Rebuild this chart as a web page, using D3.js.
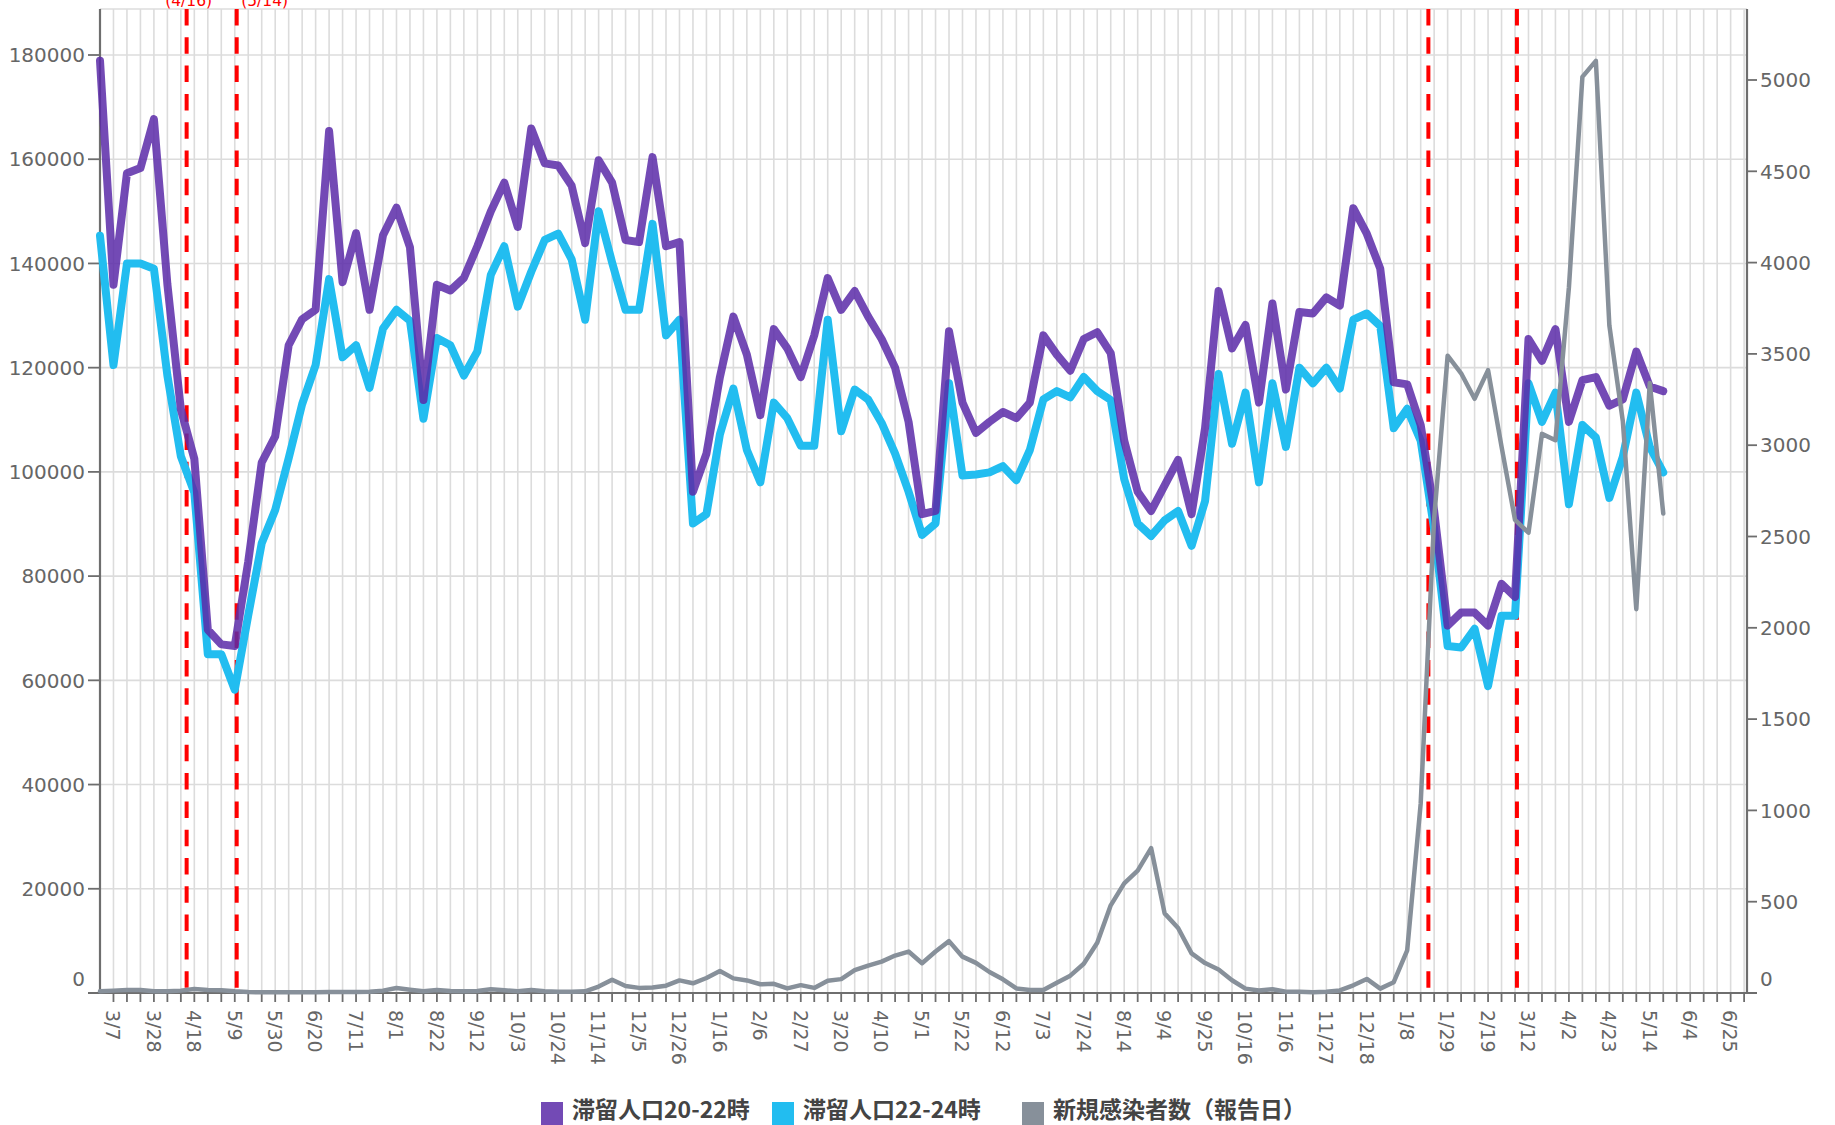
<!DOCTYPE html>
<html>
<head>
<meta charset="utf-8">
<script src="https://cdn.jsdelivr.net/npm/d3@7"></script>
<style>
  html, body { margin: 0; padding: 0; background: #fff; }
  svg { display: block; }
</style>
</head>
<body>
<svg id="chart" width="1835" height="1125"></svg>
<script>
// ---- data (weekly, first week = 2020-02-29) ----
const firstWeek = "2020-02-29";
const stay2022 = [178900,135900,157300,158300,167700,136000,112000,102500,69700,66900,
  66600,82800,101800,106800,124300,129300,131100,165400,136400,145800,
  131100,145400,150700,143100,113800,135900,134800,137200,143300,150000,
  155500,147000,165900,159200,158800,154900,143900,159800,155500,144500,
  144100,160400,143300,144100,96200,103500,118200,129800,122500,110900,
  127400,123700,118200,126200,137200,131100,134700,129800,125500,120000,
  109600,91900,92500,127000,113300,107500,109600,111500,110300,113300,
  126200,122500,119400,125500,126800,122800,106000,96200,92500,97400,
  102300,91900,108400,134700,123700,128200,113300,132300,115800,130700,
  130400,133500,131900,150600,145700,139000,117200,116800,109000,92500,
  70500,73000,73000,70500,78500,76000,125500,121300,127400,109600,
  117600,118200,112700,113900,123100,116400,115500];
const stay2224 = [145300,120500,140000,140000,139000,118500,103000,96000,65000,65000,
  58200,72500,86300,92700,102600,113000,120500,137000,122000,124300,
  116100,127500,131100,129000,110200,125700,124300,118500,123100,137800,
  143300,131700,138400,144500,145700,140800,129200,150000,140200,131100,
  131100,147600,126200,129200,90100,91900,107200,116000,104200,98000,
  113300,110300,105000,105000,129200,107800,115800,113900,109400,103500,
  96200,87900,90100,117000,99300,99500,99900,101100,98400,104200,
  113900,115500,114300,118200,115500,113800,98600,90100,87700,90700,
  92500,85800,94400,118800,105400,115200,98000,117000,104800,120000,
  117000,120000,116000,129200,130400,128000,108400,112100,106000,89000,
  66600,66300,69900,58900,72400,72400,117000,109600,115200,93800,
  109000,106600,95000,102900,115200,104800,99900];
const newCases = [9,13,16,16,9,9,13,22,16,15,
  9,5,4,4,4,4,4,5,5,5,
  7,13,27,18,9,16,11,9,11,20,
  15,9,16,9,7,7,9,35,73,38,
  28,30,40,69,53,82,120,80,69,48,
  50,25,43,28,67,76,125,150,172,205,
  227,163,227,284,199,165,115,75,25,17,
  17,56,95,160,275,480,600,670,793,436,
  356,217,164,129,70,24,14,21,7,7,
  4,7,14,42,77,24,59,234,1037,2600,
  3490,3394,3254,3411,2992,2591,2521,3062,3027,3865,
  5017,5105,3656,3132,2102,3341,2626];

const seriesNames = ["滞留人口20-22時", "滞留人口22-24時", "新規感染者数（報告日）"];
const seriesColors = ["#5a2aa8", "#22bdf0", "#87909a"];
const leftTicks = [0,20000,40000,60000,80000,100000,120000,140000,160000,180000];
const rightTicks = [0,500,1000,1500,2000,2500,3000,3500,4000,4500,5000];
const markerDates = ["2020-04-14","2020-05-10","2022-01-19","2022-03-06"];
const markerLabels = ["(4/16)","(5/14)","",""];

// ---- layout ----
const svg = d3.select("#chart");
const L = 100, R = 1747, T = 9, B = 993;
const parse = d3.utcParse("%Y-%m-%d");
const start = parse(firstWeek);
const dates = stay2022.map((_, i) => d3.utcDay.offset(start, 7 * i));

const x = d3.scaleUtc()
  .domain([start, new Date(Date.UTC(2022, 6, 3, 12))])
  .range([L, R]);
const yL = d3.scaleLinear().domain([0, 180000]).range([B, 55]);
const yR = d3.scaleLinear().domain([0, 5000]).range([B, 80]);

const weekTicks = d3.utcSaturday.range(start, x.domain()[1]);
const fmt = d3.utcFormat("%-m/%-d");

// vertical grid
svg.append("g").selectAll("line").data(weekTicks.slice(1)).join("line")
  .attr("x1", d => x(d)).attr("x2", d => x(d))
  .attr("y1", T).attr("y2", B)
  .attr("stroke", "#dcdcdc").attr("stroke-width", 1.6);

// horizontal grid
svg.append("g").selectAll("line").data(leftTicks.filter(v => v > 0)).join("line")
  .attr("x1", L).attr("x2", R)
  .attr("y1", d => yL(d)).attr("y2", d => yL(d))
  .attr("stroke", "#dcdcdc").attr("stroke-width", 1.6);
svg.append("line").attr("x1", L).attr("x2", R).attr("y1", T).attr("y2", T)
  .attr("stroke", "#dcdcdc").attr("stroke-width", 1.6);

// axes lines
const axisColor = "#6e6e6e";
svg.append("line").attr("x1", L).attr("x2", L).attr("y1", T).attr("y2", B + 1)
  .attr("stroke", axisColor).attr("stroke-width", 2.2);
svg.append("line").attr("x1", R).attr("x2", R).attr("y1", T).attr("y2", B + 1)
  .attr("stroke", axisColor).attr("stroke-width", 2.2);
svg.append("line").attr("x1", L - 12).attr("x2", R + 10).attr("y1", B).attr("y2", B)
  .attr("stroke", axisColor).attr("stroke-width", 2.2);

// x ticks
svg.append("g").selectAll("line").data(weekTicks.slice(1)).join("line")
  .attr("x1", d => x(d)).attr("x2", d => x(d))
  .attr("y1", B).attr("y2", B + 9)
  .attr("stroke", axisColor).attr("stroke-width", 1.8);

// x labels (every 3 weeks from 3/7)
const labelTicks = weekTicks.filter((d, i) => i % 3 === 1);
svg.append("g").selectAll("text").data(labelTicks).join("text")
  .attr("transform", d => `translate(${x(d)},1010) rotate(90)`)
  .attr("dy", "0.38em")
  .attr("text-anchor", "start")
  .attr("font-family", "DejaVu Sans, Verdana, sans-serif")
  .attr("font-size", 19)
  .attr("fill", "#666")
  .text(d => fmt(d));

// left y ticks + labels
const gl = svg.append("g");
gl.selectAll("line").data(leftTicks).join("line")
  .attr("x1", L - 12).attr("x2", L).attr("y1", d => yL(d)).attr("y2", d => yL(d))
  .attr("stroke", axisColor).attr("stroke-width", 1.8);
gl.selectAll("text").data(leftTicks).join("text")
  .attr("x", L - 15).attr("y", d => yL(d) - (d === 0 ? 14 : 0))
  .attr("dy", "0.36em").attr("text-anchor", "end")
  .attr("font-family", "DejaVu Sans, Verdana, sans-serif")
  .attr("font-size", 20).attr("fill", "#666")
  .text(d => d);

// right y ticks + labels
const gr = svg.append("g");
gr.selectAll("line").data(rightTicks).join("line")
  .attr("x1", R).attr("x2", R + 10).attr("y1", d => yR(d)).attr("y2", d => yR(d))
  .attr("stroke", axisColor).attr("stroke-width", 1.8);
gr.selectAll("text").data(rightTicks).join("text")
  .attr("x", R + 13).attr("y", d => yR(d) - (d === 0 ? 14 : 0))
  .attr("dy", "0.36em").attr("text-anchor", "start")
  .attr("font-family", "DejaVu Sans, Verdana, sans-serif")
  .attr("font-size", 20).attr("fill", "#666")
  .text(d => d);

// red dashed markers
markerDates.forEach((ds, i) => {
  const mx = x(parse(ds));
  svg.append("line").attr("x1", mx).attr("x2", mx).attr("y1", T).attr("y2", B - 3)
    .attr("stroke", "#ff0000").attr("stroke-width", 4)
    .attr("stroke-dasharray", "16.5,11.8");
  if (markerLabels[i]) {
    svg.append("text")
      .attr("x", i === 0 ? mx + 2 : mx + 4.5)
      .attr("y", 5.5)
      .attr("text-anchor", i === 0 ? "middle" : "start")
      .attr("font-family", "DejaVu Sans, Verdana, sans-serif")
      .attr("font-size", 15.5).attr("fill", "#ff0000")
      .text(markerLabels[i]);
  }
});

// lines
const lineL = d3.line().x((d, i) => x(dates[i])).y(d => yL(d));
const lineR = d3.line().x((d, i) => x(dates[i])).y(d => yR(d));

svg.append("path").datum(stay2224).attr("d", lineL)
  .attr("fill", "none").attr("stroke", seriesColors[1]).attr("stroke-width", 8)
  .attr("stroke-linejoin", "round").attr("stroke-linecap", "round");
svg.append("path").datum(stay2022).attr("d", lineL)
  .attr("fill", "none").attr("stroke", seriesColors[0]).attr("stroke-width", 8)
  .attr("stroke-opacity", 0.85)
  .attr("stroke-linejoin", "round").attr("stroke-linecap", "round");
svg.append("path").datum(newCases).attr("d", lineR)
  .attr("fill", "none").attr("stroke", seriesColors[2]).attr("stroke-width", 4.5)
  .attr("stroke-linejoin", "round").attr("stroke-linecap", "round");

// legend
const legendX = [541, 772, 1022];
const lg = svg.append("g");
seriesNames.forEach((name, i) => {
  lg.append("rect").attr("x", legendX[i]).attr("y", 1102).attr("width", 22).attr("height", 23)
    .attr("fill", seriesColors[i]).attr("fill-opacity", i === 0 ? 0.85 : 1);
  lg.append("text").attr("x", legendX[i] + 31).attr("y", 1118)
    .attr("font-family", "Noto Sans CJK JP, sans-serif")
    .attr("font-weight", "bold").attr("font-size", 23).attr("fill", "#444")
    .text(name);
});
</script>
</body>
</html>
